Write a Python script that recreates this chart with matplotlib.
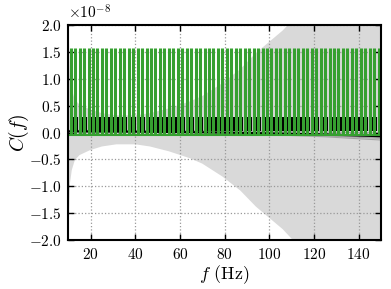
import numpy as np
import matplotlib
matplotlib.use("Agg")
import matplotlib.pyplot as plt

plt.rcParams['font.family'] = 'serif'
plt.rcParams['font.serif'] = ['cmr10']
plt.rcParams['mathtext.fontset'] = 'cm'
plt.rcParams['axes.formatter.use_mathtext'] = True
plt.rcParams['axes.unicode_minus'] = True

# confidence band (units of 1e-8)
band_f = [10, 10.3, 10.7, 11.5, 12.9, 15, 19.6, 25, 31.5, 40, 46.5, 55, 64.5,
          70, 79, 87, 94, 100, 106, 110.5, 120, 135, 150]
band_lo = [-2.1, -1.5, -0.94, -0.7, -0.51, -0.42, -0.33, -0.26, -0.22, -0.22,
           -0.26, -0.35, -0.48, -0.58, -0.82, -1.08, -1.38, -1.59, -1.8, -2.0,
           -2.4, -3.1, -3.8]
band_hi = [2.2, 1.6, 1.04, 0.8, 0.61, 0.52, 0.43, 0.36, 0.32, 0.32, 0.36,
           0.45, 0.58, 0.68, 0.92, 1.18, 1.48, 1.69, 1.9, 2.1, 2.5, 3.2, 3.9]

# posterior sample curves
samp_f = [10, 40, 70, 100, 125, 150]
samples = [
    [0.02, 0.01, 0.0, -0.02, -0.05, -0.09],
    [0.03, 0.02, 0.01, -0.01, -0.03, -0.06],
    [0.02, 0.01, -0.01, -0.04, -0.08, -0.14],
    [0.04, 0.03, 0.03, 0.02, 0.01, -0.01],
    [0.03, 0.02, 0.0, -0.03, -0.06, -0.11],
]
median_f = [10, 40, 70, 100, 125, 150]
median = [0.02, 0.015, 0.005, -0.015, -0.035, -0.07]

# measured spectrum: comb of narrow spikes
green_f = [11, 13, 15, 17, 19, 21, 23, 25, 27, 29, 31, 33, 35, 37, 39, 41, 43,
           45, 47, 49, 51, 53, 55, 57, 59, 61, 63, 65, 67, 69, 71, 73, 75, 77,
           79, 81, 83, 85, 87, 89, 91, 93, 95, 97, 99, 101, 103, 105, 107, 109,
           111, 113, 115, 117, 119, 121, 123, 125, 127, 129, 131, 133, 135,
           137, 139, 141, 143, 145, 147, 149]
green_top = 1.58
green_base = -0.04
black_f = [f + 1 for f in green_f[:-1]]
black_top = 0.28
black_base = 0.03

fig = plt.figure(figsize=(3.91, 2.89), dpi=100)
ax = fig.add_axes([0.175, 0.170, 0.799, 0.743])

ax.fill_between(band_f, band_lo, band_hi, color='#d9d9d9', lw=0, zorder=1)
for s in samples:
    ax.plot(samp_f, s, color='0.45', lw=0.8, alpha=0.5, zorder=2)
ax.vlines(black_f, black_base, black_top, color='k', lw=1.6, zorder=3)
ax.plot(median_f, median, color='k', lw=1.5, zorder=3)
ax.vlines(green_f, green_base, green_top, color='#36a030', lw=2.2, zorder=4)
ax.plot([10, 150], [green_base, green_base], color='#36a030', lw=1.5, zorder=4)

ax.set_xlim(10, 150)
ax.set_ylim(-2.0, 2.0)
ax.set_xticks([20, 40, 60, 80, 100, 120, 140])
ax.set_yticks(np.arange(-2.0, 2.01, 0.5))
ax.set_yticklabels(['$%.1f$' % v if v >= 0 else '$-%.1f$' % -v
                    for v in np.arange(-2.0, 2.01, 0.5)])
ax.set_xticklabels(['$%d$' % v for v in [20, 40, 60, 80, 100, 120, 140]])
ax.tick_params(direction='in', top=True, right=True, labelsize=11,
               length=4, width=1, pad=5)
ax.grid(True, ls=':', color='0.6', lw=0.9)
ax.set_axisbelow(False)
for sp in ax.spines.values():
    sp.set_linewidth(1.5)
    sp.set_zorder(6)

ax.text(0.0, 1.015, r'$\times10^{-8}$', transform=ax.transAxes, fontsize=11,
        ha='left', va='bottom')
ax.set_xlabel(r'$f$ (Hz)', fontsize=13, labelpad=1)
ax.set_ylabel(r'$C(f)$', fontsize=14)
ax.yaxis.set_label_coords(-0.12, 0.5)

fig.savefig('out.png', dpi=100)
